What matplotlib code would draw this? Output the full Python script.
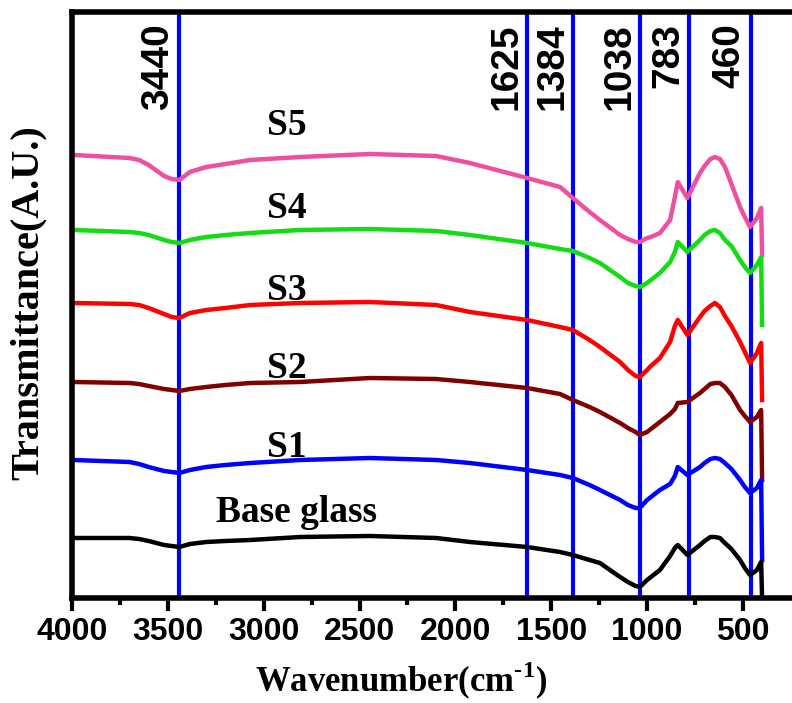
import numpy as np
import matplotlib
matplotlib.use('Agg')
import matplotlib.pyplot as plt

plt.rcParams['mathtext.fontset'] = 'custom'
plt.rcParams['mathtext.rm'] = 'Liberation Serif:bold'
plt.rcParams['mathtext.bf'] = 'Liberation Serif:bold'

# wavenumber grid (cm-1)
wavenumber = [3990, 3700, 3650, 3600, 3520, 3480, 3440, 3385, 3300, 3200, 3070,
              2810, 2445, 2100, 1924, 1626, 1454, 1387, 1300, 1246, 1141, 1100,
              1060, 1038, 1000, 980, 933, 880, 855, 840, 790, 724, 700, 670,
              646, 620, 594, 560, 515, 490, 463, 427, 405, 400]

# stacked transmittance traces (arbitrary units, already offset)
s5 = [443, 440, 438, 433, 422, 419, 418, 426, 431, 434, 438, 441, 444, 442, 435,
      420, 411, 400, 386, 378, 363, 359, 356, 356, 360, 361, 365, 378, 401, 416,
      400, 425, 432, 439, 441, 439, 431, 414, 391, 381, 371, 380, 390, 343]
s4 = [368, 366, 365, 363, 358, 356, 355, 358, 361, 363, 365, 368, 369, 367, 363,
      355, 349, 347, 340, 335, 321, 315, 312, 311, 315, 318, 325, 336, 346, 356,
      346, 358, 363, 367, 368, 365, 358, 352, 338, 331, 325, 333, 341, 273]
s3 = [295, 294, 293, 290, 284, 281, 280, 285, 288, 290, 293, 295, 296, 293, 286,
      278, 271, 268, 258, 251, 236, 228, 222, 221, 228, 232, 240, 256, 272, 278,
      263, 281, 287, 292, 295, 291, 282, 272, 256, 246, 235, 245, 255, 198]
s2 = [216, 215, 214, 212, 209, 208, 207, 209, 211, 213, 215, 216, 220, 219, 216,
      210, 204, 198, 191, 186, 175, 170, 166, 163, 166, 169, 176, 184, 189, 195,
      196, 205, 209, 214, 215, 215, 211, 203, 188, 182, 176, 181, 188, 118]
s1 = [138, 136, 134, 131, 127, 126, 125, 128, 131, 133, 135, 138, 140, 138, 135,
      128, 123, 120, 113, 108, 98, 93, 90, 90, 98, 101, 108, 114, 122, 131,
      123, 131, 135, 139, 140, 139, 135, 129, 118, 111, 105, 110, 118, 38]
base = [60, 60, 59, 57, 53, 52, 51, 54, 56, 57, 58, 61, 62, 60, 56,
        51, 46, 43, 38, 35, 21, 16, 12, 11, 18, 21, 28, 42, 50, 53,
        43, 53, 57, 61, 61, 60, 55, 49, 38, 30, 23, 28, 36, 0]

series = [s5, s4, s3, s2, s1, base]
names = ['S5', 'S4', 'S3', 'S2', 'S1', 'Base glass']
colors = ['#EE4FA0', '#14DC14', '#FF0000', '#800000', '#0000FF', '#000000']
label_x = [2878, 2878, 2878, 2878, 2878, 2831]
label_y = [463, 380, 298, 220, 141, 76]

peaks = [3440, 1625, 1384, 1038, 783, 460]

fig = plt.figure(figsize=(7.92, 7.03), dpi=100)
ax = fig.add_axes([72 / 792, 105 / 703, 1 - 72 / 792, (598 - 12) / 703])

for p in peaks:
    ax.axvline(p, color='#0000FF', lw=3.0, zorder=1)
    ax.annotate(str(p), xy=(p, 1), xycoords=('data', 'axes fraction'),
                xytext=(-2, -8), textcoords='offset points', rotation=90,
                ha='right', va='top', fontsize=28, fontweight='bold',
                family='Liberation Sans')

for y, c in zip(series, colors):
    ax.plot(wavenumber, y, color=c, lw=3.2, solid_joinstyle='round', zorder=2)

for name, lx, ly in zip(names, label_x, label_y):
    ax.text(lx, ly, name, ha='center', va='baseline', fontsize=27,
            fontweight='bold', family='Liberation Serif')

ax.set_xlim(4000, 244)
ax.set_ylim(0, 586)
ax.set_xticks([4000, 3500, 3000, 2500, 2000, 1500, 1000, 500])
ax.set_xticks(np.arange(3750, 300, -500), minor=True)
ax.set_yticks([])
ax.tick_params(axis='x', which='major', direction='out', length=9, width=3,
               pad=5, labelsize=23)
ax.tick_params(axis='x', which='minor', direction='out', length=5, width=3)
for lab in ax.get_xticklabels():
    lab.set_fontweight('bold')
    lab.set_family('Liberation Sans')

for side in ['left', 'top', 'bottom']:
    ax.spines[side].set_linewidth(4)
ax.spines['right'].set_visible(False)

fig.text(401 / 792, 11 / 703, r'Wavenumber(cm$^{\text{-}\mathbf{1}}$)', ha='center',
         va='baseline', fontsize=25, fontweight='bold', family='Liberation Serif')
fig.text(28 / 792, (703 - 303) / 703, 'Transmittance(A.U.)', rotation=90,
         ha='center', va='center', fontsize=29, fontweight='bold',
         family='Liberation Serif')

fig.savefig('out.png', dpi=100)
